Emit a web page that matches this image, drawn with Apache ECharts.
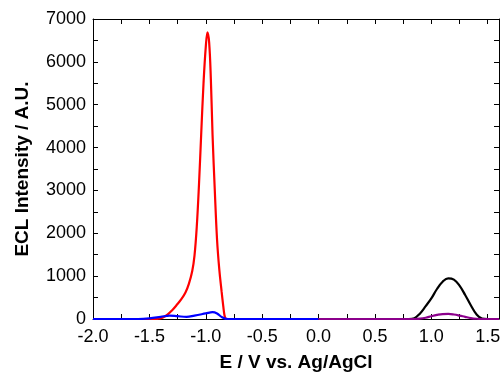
<!DOCTYPE html>
<html>
<head>
<meta charset="utf-8">
<script src="https://cdn.jsdelivr.net/npm/echarts@6/dist/echarts.min.js"></script>
<style>html,body{margin:0;padding:0;background:#fff}#c{width:501px;height:373px}</style>
</head>
<body>
<div id="c"></div>
<script>
// Red curve (E / V, intensity)
const redX = [-2.0, -1.6, -1.46, -1.42, -1.38, -1.34, -1.30, -1.26, -1.22, -1.18, -1.15, -1.12, -1.10, -1.08, -1.06, -1.04, -1.02, -1.00, -0.985, -0.97, -0.955, -0.94, -0.92, -0.90, -0.88, -0.86, -0.845, -0.835, -0.825, -0.81, -0.7, 0.0];
const redY = [0, 0, 0, 8, 35, 100, 200, 320, 450, 620, 820, 1120, 1480, 2150, 3150, 4350, 5500, 6350, 6690, 6450, 5600, 4300, 3000, 1850, 1150, 650, 300, 100, 15, 0, 0, 0];
// Blue curve
const blueX = [-2.0, -1.6, -1.5, -1.4, -1.32, -1.25, -1.17, -1.1, -1.0, -0.94, -0.9, -0.86, -0.82, -0.78, 0.0];
const blueY = [0, 0, 15, 50, 80, 65, 50, 80, 130, 160, 130, 50, 5, 0, 0];
// Black curve
const blackX = [0.0, 0.8, 0.85, 0.9, 0.95, 1.0, 1.05, 1.1, 1.15, 1.2, 1.25, 1.3, 1.35, 1.4, 1.45, 1.5, 1.6];
const blackY = [0, 0, 20, 130, 300, 480, 700, 870, 950, 920, 780, 560, 320, 110, 10, 0, 0];
// Purple curve
const purpleX = [0.0, 0.85, 0.9, 0.95, 1.0, 1.05, 1.1, 1.15, 1.2, 1.25, 1.3, 1.35, 1.4, 1.45, 1.6];
const purpleY = [0, 0, 8, 30, 65, 95, 115, 118, 105, 80, 50, 22, 6, 0, 0];

const xMin = -2.0, xMax = 1.6, xStep = 0.25;
const yMin = 0, yMax = 7000, yStep = 500;

const zip = (a, b) => a.map((v, i) => [v, b[i]]);
const chart = echarts.init(document.getElementById('c'), null, {renderer: 'canvas'});
const font = 'Liberation Sans, Arial, Helvetica, sans-serif';
const axisLine = {show: true, onZero: false, lineStyle: {color: '#000', width: 1}};
const tick = {show: true, inside: true, length: 5, lineStyle: {color: '#000', width: 1}};
const line = (data, color) => ({type: 'line', data, showSymbol: false, smooth: 0.4,
  lineStyle: {color, width: 2.2}, itemStyle: {color}, animation: false});

chart.setOption({
  animation: false,
  grid: {left: 93, right: 2, top: 19, bottom: 54, outerBoundsMode: 'none', containLabel: false},
  xAxis: [{
    type: 'value', min: xMin, max: xMax, interval: xStep, position: 'bottom',
    axisLine, axisTick: tick, splitLine: {show: false},
    axisLabel: {color: '#000', fontSize: 18, fontFamily: font, margin: 9,
      formatter: v => Math.abs(v * 2 - Math.round(v * 2)) < 1e-6 ? v.toFixed(1) : ''},
    name: 'E / V vs. Ag/AgCl', nameLocation: 'middle', nameGap: 34,
    nameTextStyle: {color: '#000', fontSize: 19, fontWeight: 'bold', fontFamily: font}
  }, {
    type: 'value', min: xMin, max: xMax, interval: xStep, position: 'top',
    axisLine, axisTick: tick, axisLabel: {show: false}, splitLine: {show: false}
  }],
  yAxis: [{
    type: 'value', min: yMin, max: yMax, interval: yStep, position: 'left',
    axisLine, axisTick: tick, splitLine: {show: false},
    axisLabel: {color: '#000', fontSize: 18, fontFamily: font, margin: 7,
      formatter: v => v % 1000 === 0 ? String(v) : ''},
    name: 'ECL Intensity / A.U.', nameLocation: 'middle', nameGap: 61,
    nameTextStyle: {color: '#000', fontSize: 19, fontWeight: 'bold', fontFamily: font}
  }, {
    type: 'value', min: yMin, max: yMax, interval: yStep, position: 'right',
    axisLine, axisTick: tick, axisLabel: {show: false}, splitLine: {show: false}
  }],
  series: [
    line(zip(redX, redY), '#ff0000'),
    line(zip(blackX, blackY), '#000000'),
    line(zip(blueX, blueY), '#0000ff'),
    line(zip(purpleX, purpleY), '#8b008b')
  ]
});
</script>
</body>
</html>
